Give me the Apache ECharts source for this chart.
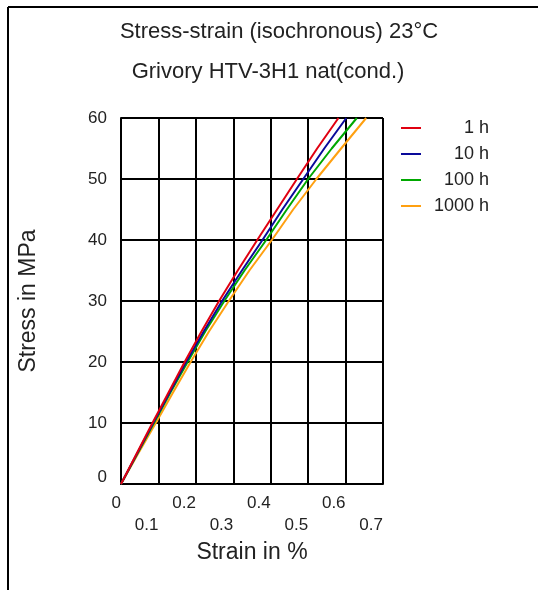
<!DOCTYPE html>
<html>
<head>
<meta charset="utf-8">
<script src="https://cdn.jsdelivr.net/npm/echarts@6/dist/echarts.min.js"></script>
<style>
html,body{margin:0;padding:0;background:#fff;}
#chart{width:538px;height:590px;}
</style>
</head>
<body>
<div id="chart"></div>
<script>
// Data
var stress = [0, 5, 10, 15, 20, 25, 30, 35, 40, 45, 50, 55, 60];
var strain1h    = [0, 0.042, 0.084, 0.127, 0.170, 0.215, 0.262, 0.312, 0.364, 0.417, 0.470, 0.524, 0.581];
var strain10h   = [0, 0.043, 0.086, 0.130, 0.174, 0.221, 0.270, 0.323, 0.378, 0.431, 0.487, 0.543, 0.602];
var strain100h  = [0, 0.044, 0.088, 0.132, 0.178, 0.225, 0.276, 0.330, 0.388, 0.443, 0.500, 0.563, 0.630];
var strain1000h = [0, 0.046, 0.093, 0.139, 0.186, 0.235, 0.288, 0.343, 0.403, 0.460, 0.522, 0.588, 0.655];
var seriesNames = ['1 h', '10 h', '100 h', '1000 h'];
var seriesColors = ['#e00010', '#0a0a9a', '#00a800', '#ffa010'];
var xTicks = [0, 0.1, 0.2, 0.3, 0.4, 0.5, 0.6, 0.7];
var yTicks = [0, 10, 20, 30, 40, 50, 60];
var titleLine1 = 'Stress-strain (isochronous) 23°C';
var titleLine2 = 'Grivory HTV-3H1 nat(cond.)';

var FONT = '"Liberation Sans", Arial, sans-serif';

function pairs(xs) {
  return xs.map(function (x, i) { return [x, stress[i]]; });
}
var allStrains = [strain1h, strain10h, strain100h, strain1000h];

var chart = echarts.init(document.getElementById('chart'), null, {renderer: 'canvas'});
var option = {
  backgroundColor: '#fff',
  animation: false,
  title: [
    {text: titleLine1, left: 274, top: 16, textAlign: 'center',
     textStyle: {fontFamily: FONT, fontSize: 22, fontWeight: 'normal', color: '#222'}},
    {text: titleLine2, left: 263, top: 56, textAlign: 'center',
     textStyle: {fontFamily: FONT, fontSize: 22, fontWeight: 'normal', color: '#222'}}
  ],
  legend: {
    orient: 'vertical',
    left: 396,
    top: 114,
    itemWidth: 20,
    itemHeight: 2,
    itemGap: 8,
    icon: 'rect',
    data: seriesNames,
    formatter: function (name) { return '{a|' + name + '}'; },
    textStyle: {
      fontFamily: FONT, fontSize: 18, color: '#222',
      rich: {a: {fontFamily: FONT, fontSize: 18, width: 63, align: 'right', lineHeight: 18, color: '#222'}}
    }
  },
  grid: {left: 121, top: 118, width: 262, height: 366, containLabel: false},
  xAxis: {
    type: 'value', min: 0, max: 0.7, interval: 0.1,
    name: 'Strain in %', nameLocation: 'middle', nameGap: 48,
    nameTextStyle: {fontFamily: FONT, fontSize: 23, color: '#222'},
    axisLine: {show: true, lineStyle: {color: '#000', width: 2}},
    axisTick: {show: false},
    splitLine: {show: true, lineStyle: {color: '#000', width: 2}},
    axisLabel: {
      fontFamily: FONT, fontSize: 17, color: '#222', align: 'right', margin: 8,
      lineHeight: 22, showMaxLabel: true, showMinLabel: true,
      formatter: function (v, idx) {
        var s = v === 0 ? '0' : v.toFixed(1);
        var i = Math.round(v * 10);
        return (i % 2 === 1) ? '\n' + s : s;
      }
    }
  },
  yAxis: {
    type: 'value', min: 0, max: 60, interval: 10,
    name: 'Stress in MPa', nameLocation: 'middle', nameGap: 81, nameRotate: 90,
    nameTextStyle: {fontFamily: FONT, fontSize: 23, color: '#222'},
    axisLine: {show: true, lineStyle: {color: '#000', width: 2}},
    axisTick: {show: false},
    splitLine: {show: true, lineStyle: {color: '#000', width: 2}},
    axisLabel: {
      fontFamily: FONT, fontSize: 17, color: '#222', margin: 14,
      lineHeight: 14,
      formatter: function (v) { return v === 0 ? '0\n ' : String(v); }
    }
  },
  graphic: [
    {type: 'line', shape: {x1: 8, y1: 7, x2: 538, y2: 7}, style: {stroke: '#000', lineWidth: 2}},
    {type: 'line', shape: {x1: 8, y1: 7, x2: 8, y2: 590}, style: {stroke: '#000', lineWidth: 2}}
  ],
  series: seriesNames.map(function (n, k) {
    return {
      name: n, type: 'line', data: pairs(allStrains[k]),
      showSymbol: false, smooth: false, z: 3 + (3 - k),
      lineStyle: {color: seriesColors[k], width: 2},
      itemStyle: {color: seriesColors[k]}
    };
  })
};
chart.setOption(option);
</script>
</body>
</html>
